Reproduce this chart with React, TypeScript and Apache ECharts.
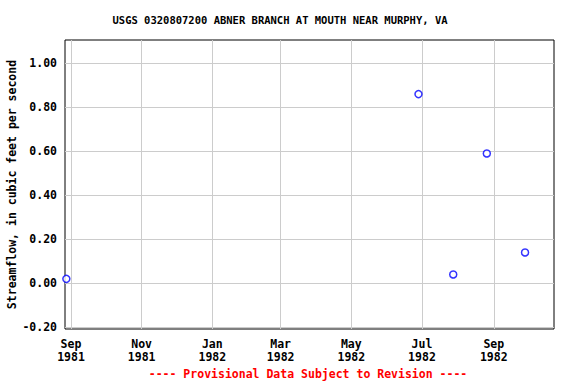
import React, { useEffect, useRef } from "react";
import * as echarts from "echarts";

const titleText = "USGS 0320807200 ABNER BRANCH AT MOUTH NEAR MURPHY, VA";
const yAxisName = "Streamflow, in cubic feet per second";
const footnote = "---- Provisional Data Subject to Revision ----";

// observation dates (UTC) and streamflow values
const obsDates = ["1981-08-28", "1982-06-28", "1982-07-28", "1982-08-26", "1982-09-28"];
const obsValues = [0.02, 0.86, 0.04, 0.59, 0.14];

const xTickDates = ["1981-09-01", "1981-11-01", "1982-01-01", "1982-03-01", "1982-05-01", "1982-07-01", "1982-09-01"];
const yTicks = [-0.2, 0, 0.2, 0.4, 0.6, 0.8, 1.0];
const monthNames = ["Jan", "Feb", "Mar", "Apr", "May", "Jun", "Jul", "Aug", "Sep", "Oct", "Nov", "Dec"];

const xMinDate = "1981-08-26T20:00:00Z";
const xMaxDate = "1982-10-23T00:00:00Z";
const yMin = -0.208;
const yMax = 1.106;

const ts = (s: string) => new Date(s.length === 10 ? s + "T00:00:00Z" : s).getTime();

export default function App() {
  const ref = useRef<HTMLDivElement>(null);
  useEffect(() => {
    if (!ref.current) return;
    const chart = echarts.init(ref.current, undefined, { renderer: "svg" });
    const font = "'DejaVu Sans Mono', monospace";
    chart.setOption({
      animation: false,
      backgroundColor: "#fff",
      title: [
        {
          text: titleText,
          left: 280,
          textAlign: "center",
          top: 14,
          padding: 0,
          textStyle: { fontFamily: font, fontSize: 10.5, fontWeight: "bold", color: "#000" },
        },
        {
          text: footnote,
          left: 308,
          textAlign: "center",
          top: 368,
          padding: 0,
          textStyle: { fontFamily: font, fontSize: 11.5, fontWeight: "bold", color: "#ff0000" },
        },
      ],
      grid: {
        left: 65,
        top: 40,
        right: 22,
        bottom: 55,
        show: true,
        containLabel: false,
        outerBoundsMode: "none",
        borderColor: "#000",
        borderWidth: 1,
        backgroundColor: "transparent",
      },
      xAxis: {
        type: "value",
        min: ts(xMinDate),
        max: ts(xMaxDate),
        axisLine: { show: false },
        axisTick: { show: false, customValues: xTickDates.map(ts) },
        splitLine: { show: true, lineStyle: { color: "#cccccc", width: 1 } },
        axisLabel: {
          customValues: xTickDates.map(ts),
          formatter: (v: number) => {
            const d = new Date(v);
            return monthNames[d.getUTCMonth()] + "\n" + d.getUTCFullYear();
          },
          fontFamily: font,
          fontSize: 11.5,
          fontWeight: "bold",
          color: "#000",
          lineHeight: 13,
          margin: 8,
          hideOverlap: false,
        },
      },
      yAxis: {
        type: "value",
        min: yMin,
        max: yMax,
        name: yAxisName,
        nameLocation: "middle",
        nameGap: 47,
        nameMoveOverlap: false,
        nameTextStyle: { fontFamily: font, fontSize: 11.5, fontWeight: "bold", color: "#000" },
        axisLine: { show: false },
        axisTick: { show: false, customValues: yTicks },
        splitLine: { show: true, lineStyle: { color: "#cccccc", width: 1 } },
        axisLabel: {
          customValues: yTicks,
          formatter: (v: number) => v.toFixed(2),
          fontFamily: font,
          fontSize: 11.5,
          fontWeight: "bold",
          color: "#000",
          margin: 8,
        },
      },
      series: [
        {
          type: "scatter",
          data: obsDates.map((d, i) => [ts(d), obsValues[i]]),
          symbol: "circle",
          symbolSize: 7,
          itemStyle: { color: "#ffffff", borderColor: "#0000ff", borderWidth: 1.5 },
        },
      ],
    });
    return () => chart.dispose();
  }, []);
  return <div ref={ref} style={{ width: 576, height: 384, position: "absolute", left: 0, top: 0 }} />;
}
